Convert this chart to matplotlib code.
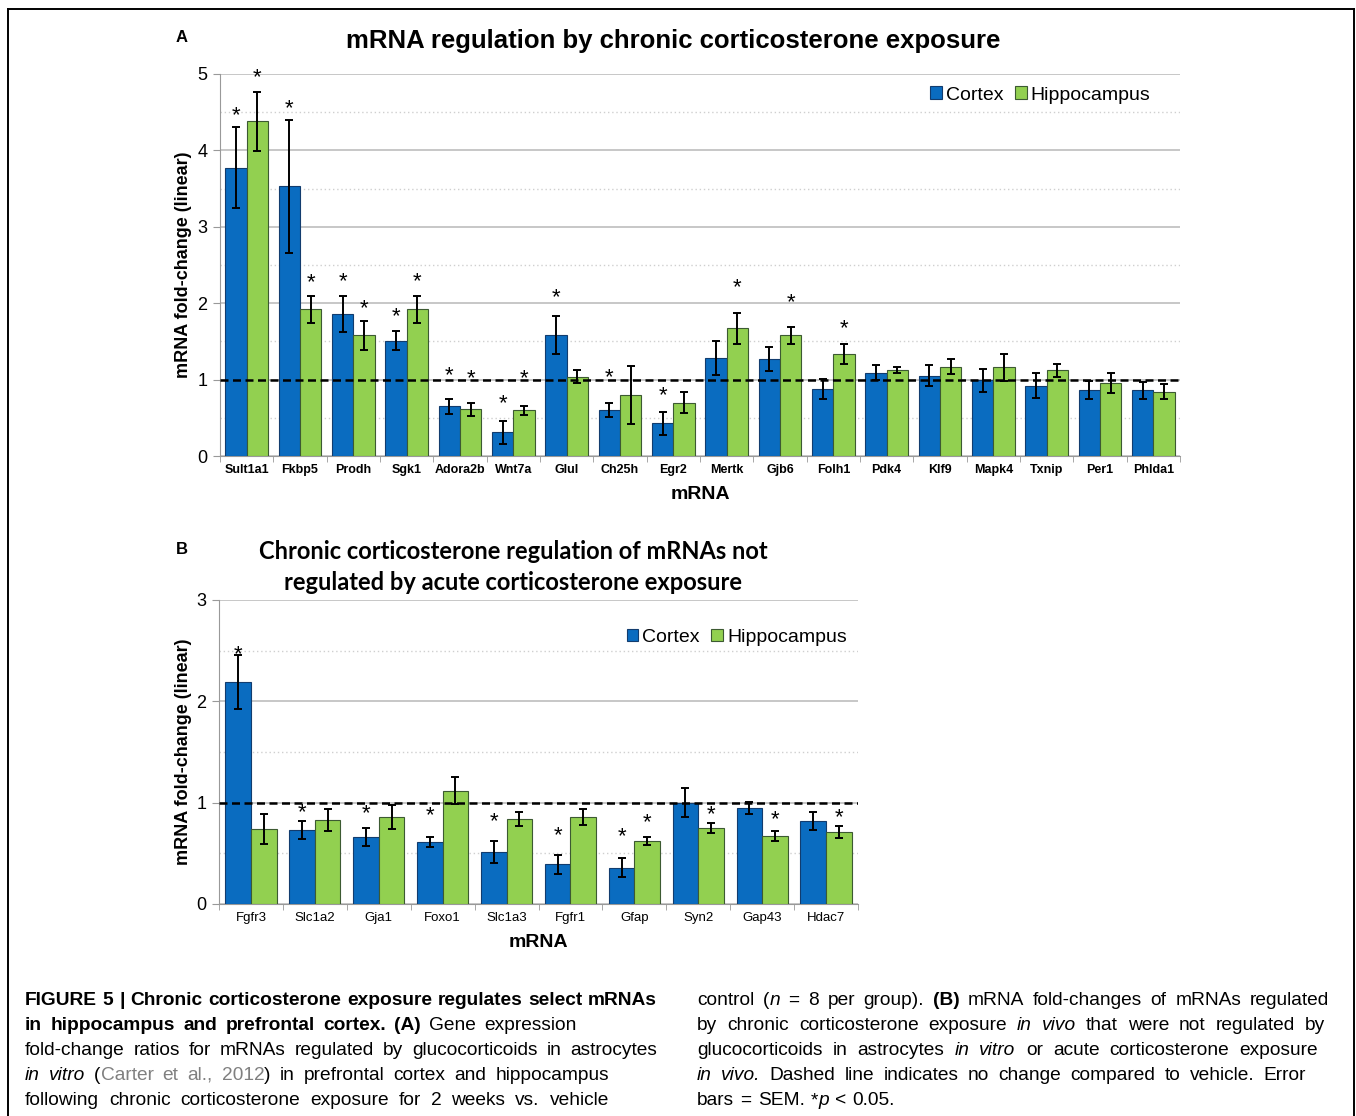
import numpy as np
import matplotlib
matplotlib.use("Agg")
import matplotlib.pyplot as plt
from matplotlib import font_manager
from matplotlib.lines import Line2D
from matplotlib.ticker import FixedLocator
from matplotlib.transforms import offset_copy

# ---- data ----
genes_a = ["Sult1a1", "Fkbp5", "Prodh", "Sgk1", "Adora2b", "Wnt7a", "Glul", "Ch25h", "Egr2",
           "Mertk", "Gjb6", "Folh1", "Pdk4", "Klf9", "Mapk4", "Txnip", "Per1", "Phlda1"]
cortex_a = [3.77, 3.53, 1.86, 1.51, 0.65, 0.31, 1.58, 0.60, 0.43,
            1.28, 1.27, 0.88, 1.09, 1.05, 0.99, 0.92, 0.86, 0.86]
cortex_a_err = [0.53, 0.87, 0.24, 0.12, 0.10, 0.15, 0.25, 0.09, 0.15,
                0.22, 0.16, 0.13, 0.10, 0.14, 0.15, 0.16, 0.12, 0.11]
hippo_a = [4.38, 1.92, 1.58, 1.92, 0.61, 0.60, 1.04, 0.80, 0.70,
           1.67, 1.58, 1.34, 1.13, 1.17, 1.16, 1.12, 0.96, 0.84]
hippo_a_err = [0.39, 0.18, 0.19, 0.18, 0.08, 0.06, 0.08, 0.38, 0.14,
               0.20, 0.11, 0.13, 0.04, 0.10, 0.18, 0.08, 0.13, 0.10]
nan = np.nan
cortex_a_star = [4.51, 4.60, 2.33, 1.88, 1.10, 0.74, 2.13, 1.08, 0.84,
                 nan, nan, nan, nan, nan, nan, nan, nan, nan]
hippo_a_star = [5.0, 2.32, 1.98, 2.33, 1.07, 1.07, nan, nan, nan,
                2.26, 2.06, 1.72, nan, nan, nan, nan, nan, nan]

genes_b = ["Fgfr3", "Slc1a2", "Gja1", "Foxo1", "Slc1a3", "Fgfr1", "Gfap", "Syn2", "Gap43", "Hdac7"]
cortex_b = [2.19, 0.73, 0.66, 0.61, 0.51, 0.39, 0.36, 1.00, 0.95, 0.82]
cortex_b_err = [0.27, 0.09, 0.09, 0.05, 0.11, 0.09, 0.09, 0.14, 0.06, 0.09]
hippo_b = [0.74, 0.83, 0.86, 1.12, 0.84, 0.86, 0.62, 0.75, 0.67, 0.71]
hippo_b_err = [0.15, 0.11, 0.12, 0.13, 0.07, 0.08, 0.04, 0.05, 0.05, 0.06]
cortex_b_star = [2.50, 0.94, 0.93, 0.91, 0.85, 0.71, 0.70, nan, nan, nan]
hippo_b_star = [nan, nan, nan, nan, nan, nan, 0.84, 0.92, 0.87, 0.89]

BLUE = "#0a6cc0"
GREEN = "#92d050"


def pick(*names):
    have = {f.name for f in font_manager.fontManager.ttflist}
    for n in names:
        if n in have:
            return n
    return "DejaVu Sans"


SANS = pick("Liberation Sans", "Arial")
NARROW = pick("Liberation Sans Narrow", "Liberation Sans")
CALIBRI = pick("Lato", "Open Sans", "Liberation Sans")

W, H = 1356, 1116
fig = plt.figure(figsize=(W / 100, H / 100), dpi=100)


def box(x0, y0, x1, y1):
    return [x0 / W, 1 - y1 / H, (x1 - x0) / W, (y1 - y0) / H]


def panel(ax, genes, c, ce, h, he, cs, hs, ymax, bold_ticks, legend_xy):
    x = np.arange(len(genes))
    w = 0.4
    ax.bar(x - w / 2, c, w, color=BLUE, edgecolor="#123c6e", lw=0.8, zorder=3, label="Cortex")
    ax.bar(x + w / 2, h, w, color=GREEN, edgecolor="#3c5a32", lw=0.8, zorder=3, label="Hippocampus")
    for xs, v, e in ((x - w / 2, c, ce), (x + w / 2, h, he)):
        ax.errorbar(xs, v, yerr=e, fmt="none", ecolor="black", elinewidth=1.4,
                    capsize=3, capthick=1.4, zorder=4)
    star_tr = offset_copy(ax.transData, fig=fig, y=-4, units="dots")
    for xs, s in ((x - w / 2, cs), (x + w / 2, hs)):
        for xi, si in zip(xs, s):
            if not np.isnan(si):
                ax.text(xi, si, "*", ha="center", va="center", fontsize=16,
                        family=SANS, zorder=6, clip_on=False, transform=star_tr)

    ax.set_xlim(-0.5, len(genes) - 0.5)
    ax.set_ylim(0, ymax)
    ax.set_yticks(np.arange(ymax + 1))
    ax.yaxis.set_minor_locator(FixedLocator(np.arange(0.5, ymax, 1.0)))
    ax.yaxis.grid(True, which="major", color="#bdbdbd", lw=1.2)
    ax.yaxis.grid(True, which="minor", color="#cfcfcf", lw=1.0, ls=(0, (1, 2)))
    ax.set_axisbelow(True)
    ax.axhline(1, color="black", lw=1.8, ls=(0, (3.2, 1.8)), zorder=5)

    ax.set_xticks(x)
    ax.set_xticklabels(genes, fontsize=9 if bold_ticks else 9.5,
                       fontweight="bold" if bold_ticks else "normal", family=SANS)
    ax.xaxis.set_minor_locator(FixedLocator(np.arange(-0.5, len(genes), 1.0)))
    ax.tick_params(axis="x", which="major", length=0, pad=6)
    ax.tick_params(axis="x", which="minor", length=4, color="#999999")
    ax.tick_params(axis="y", which="major", length=5, color="#999999", labelsize=13, pad=4)
    ax.tick_params(axis="y", which="minor", length=0)
    for lab in ax.get_yticklabels():
        lab.set_family(SANS)
    for s in ("top", "right"):
        ax.spines[s].set_visible(False)
    for s in ("left", "bottom"):
        ax.spines[s].set_color("#999999")

    ax.legend(loc="center left", bbox_to_anchor=legend_xy, ncol=2, frameon=False,
              handlelength=0.6, handleheight=0.6, handletextpad=0.2, columnspacing=0.6,
              borderpad=0, borderaxespad=0, prop={"family": SANS, "size": 14})


axA = fig.add_axes(box(220, 74, 1180, 456))
panel(axA, genes_a, cortex_a, cortex_a_err, hippo_a, hippo_a_err,
      cortex_a_star, hippo_a_star, 5, True, (0.740, 0.945))
axA.set_ylabel("mRNA fold-change (linear)", fontsize=13, fontweight="bold", family=SANS)
axA.yaxis.set_label_coords(-0.029, 0.5)
axA.set_xlabel("mRNA", fontsize=14, fontweight="bold", family=SANS, labelpad=7)

axB = fig.add_axes(box(219, 600, 858, 904))
panel(axB, genes_b, cortex_b, cortex_b_err, hippo_b, hippo_b_err,
      cortex_b_star, hippo_b_star, 3, False, (0.638, 0.878))
axB.set_ylabel("mRNA fold-change (linear)", fontsize=13, fontweight="bold", family=SANS)
axB.yaxis.set_label_coords(-0.042, 0.5)
axB.set_xlabel("mRNA", fontsize=14, fontweight="bold", family=SANS, labelpad=7)

# titles and panel letters
fig.text(182 / W, 1 - 38 / H, "A", fontsize=12, fontweight="bold", family=SANS, ha="center", va="center")
fig.text(673 / W, 1 - 41 / H, "mRNA regulation by chronic corticosterone exposure",
         fontsize=18.5, fontweight="bold", family=NARROW, ha="center", va="center")
fig.text(182 / W, 1 - 550 / H, "B", fontsize=12, fontweight="bold", family=SANS, ha="center", va="center")
fig.text(513 / W, 1 - 551 / H, "Chronic corticosterone regulation of mRNAs not",
         fontsize=17, fontweight="bold", family=CALIBRI, ha="center", va="center")
fig.text(513 / W, 1 - 582 / H, "regulated by acute corticosterone exposure",
         fontsize=17, fontweight="bold", family=CALIBRI, ha="center", va="center")

# frame around the figure
frame = dict(color="black", lw=1.4, transform=fig.transFigure)
fig.add_artist(Line2D([8 / W, 1354 / W], [1 - 9 / H, 1 - 9 / H], **frame))
fig.add_artist(Line2D([8 / W, 8 / W], [1 - 9 / H, 0], **frame))
fig.add_artist(Line2D([1354 / W, 1354 / W], [1 - 9 / H, 0], **frame))

# ---- caption, drawn word by word so lines can be justified ----
STYLE = {
    "n": dict(color="black"),
    "b": dict(color="black", fontweight="bold"),
    "i": dict(color="black", style="italic"),
    "g": dict(color="#808080"),
}
CAP_SIZE = 13.8
renderer = fig.canvas.get_renderer()


def width_of(txt, st):
    t = fig.text(0, 0, txt, fontsize=CAP_SIZE, family=NARROW, **STYLE[st])
    wpx = t.get_window_extent(renderer).width
    t.remove()
    return wpx


SPACE = width_of("a a", "n") - width_of("aa", "n")


def caption_line(x0, y, segments, x1=None):
    words = [[]]
    for txt, st in segments:
        parts = txt.split(" ")
        for i, p in enumerate(parts):
            if i > 0:
                words.append([])
            if p:
                words[-1].append((p, st))
    words = [wd for wd in words if wd]
    widths = [sum(width_of(p, st) for p, st in wd) for wd in words]
    gap = SPACE * 1.15 if x1 is None else (x1 - x0 - sum(widths)) / (len(words) - 1)
    gap = max(gap, SPACE * 0.6)
    x = x0
    for wd, wpx in zip(words, widths):
        xx = x
        for p, st in wd:
            fig.text(xx / W, 1 - y / H, p, fontsize=CAP_SIZE, family=NARROW,
                     va="baseline", ha="left", **STYLE[st])
            xx += width_of(p, st)
        x += wpx + gap


left_lines = [
    ([("FIGURE 5 | Chronic corticosterone exposure regulates select mRNAs", "b")], 657),
    ([("in hippocampus and prefrontal cortex. (A)", "b"), (" Gene expression", "n")], 577),
    ([("fold-change ratios for mRNAs regulated by glucocorticoids in astrocytes", "n")], 657),
    ([("in vitro", "i"), (" (", "n"), ("Carter et al., 2012", "g"),
      (") in prefrontal cortex and hippocampus", "n")], 609),
    ([("following chronic corticosterone exposure for 2 weeks vs. vehicle", "n")], 609),
]
right_lines = [
    ([("control (", "n"), ("n", "i"), (" = 8 per group). ", "n"), ("(B)", "b"),
      (" mRNA fold-changes of mRNAs regulated", "n")], 1329),
    ([("by chronic corticosterone exposure ", "n"), ("in vivo", "i"),
      (" that were not regulated by", "n")], 1325),
    ([("glucocorticoids in astrocytes ", "n"), ("in vitro", "i"),
      (" or acute corticosterone exposure", "n")], 1318),
    ([("in vivo.", "i"), (" Dashed line indicates no change compared to vehicle. Error", "n")], 1306),
    ([("bars = SEM. *", "n"), ("p", "i"), (" < 0.05.", "n")], None),
]
for k, (segs, x1) in enumerate(left_lines):
    caption_line(25, 1005 + 25 * k, segs, x1)
for k, (segs, x1) in enumerate(right_lines):
    caption_line(697, 1005 + 25 * k, segs, x1)

fig.savefig("out.png", dpi=100)
